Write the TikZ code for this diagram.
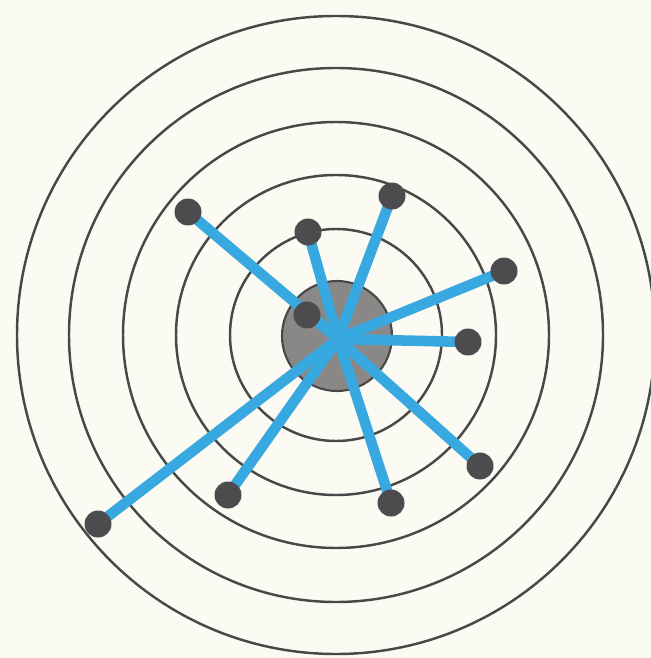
\documentclass[tikz,border=0pt]{standalone}
\usepackage{tikz}
\usetikzlibrary{positioning}
\definecolor{paper}{RGB}{252,251,243}
\definecolor{ringgray}{RGB}{72,72,72}
\definecolor{shotblue}{RGB}{56,168,224}
\definecolor{hitgray}{RGB}{76,75,78}
\definecolor{bullgray}{RGB}{138,136,134}

\begin{document}
\begin{tikzpicture}[x=0.02cm, y=-0.02cm,
    ring/.style={draw=ringgray, line width=1.4pt},
    shot/.style={draw=shotblue, line width=6pt},
    hit/.style={circle, fill=hitgray, inner sep=0pt, minimum size=0.54cm}]
    % Background
    \fill[paper] (0,0) rectangle (651,658);
    \useasboundingbox (0,0) rectangle (651,658);

    % Rings
    \foreach \r in {106,160,213,267,319} {
        \draw[ring] (336,335) circle[radius=\r];
    }

    % Bull
    \node[circle, fill=bullgray, draw=ringgray, line width=1.2pt,
          minimum size=2.2cm, inner sep=0pt] (bull) at (337,336) {};
    \coordinate (hub) at (338,339);

    % Shots
    \foreach \n/\x/\y in {1/188/212, 2/308/232, 3/392/196, 4/504/271, 5/468/342,
                          6/480/466, 7/391/503, 8/228/495, 9/98/524} {
        \coordinate (p\n) at (\x,\y);
        \draw[shot] (hub) -- (p\n);
    }

    % Hits
    \foreach \n in {1,...,9} {
        \node[hit] (hit\n) at (p\n) {};
    }
    \node[hit] (hit10) at (307,315) {};

\end{tikzpicture}
\end{document}
